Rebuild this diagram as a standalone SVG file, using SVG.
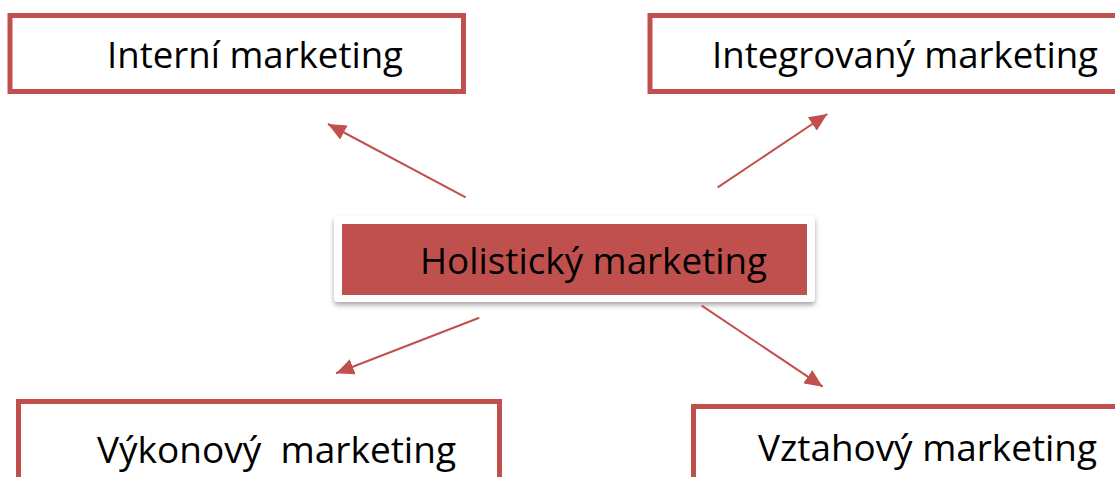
<svg xmlns="http://www.w3.org/2000/svg" width="1115" height="477" viewBox="0 0 1115 477">
  <style>
    .box { fill: #ffffff; stroke: #C0504D; stroke-width: 5; }
    .lbl { font-family: "Open Sans", "Noto Sans", "DejaVu Sans", sans-serif; font-size: 36px; fill: #000000; white-space: pre; }
    .conn { stroke: #C0504D; stroke-width: 2; fill: none; marker-end: url(#arr); }
  </style>
  <defs>
    <marker id="arr" markerUnits="userSpaceOnUse" markerWidth="20" markerHeight="16" refX="18" refY="8" orient="auto">
      <path d="M0,0 L18,8 L0,16 Z" fill="#C0504D"/>
    </marker>
    <filter id="sh" x="-5%" y="-20%" width="110%" height="150%">
      <feDropShadow dx="0" dy="3" stdDeviation="2.5" flood-color="#000" flood-opacity="0.35"/>
    </filter>
  </defs>
  <rect width="1115" height="477" fill="#ffffff"/>

  <g id="node-interni">
    <rect class="box" x="10" y="15.5" width="453.5" height="76"/>
    <text class="lbl" x="107" y="68" textLength="296" lengthAdjust="spacingAndGlyphs">Interní marketing</text>
  </g>
  <g id="node-integrovany">
    <rect class="box" x="650" y="15.5" width="500" height="76"/>
    <text class="lbl" x="712" y="68" textLength="386" lengthAdjust="spacingAndGlyphs">Integrovaný marketing</text>
  </g>
  <g id="node-holisticky">
    <rect x="334" y="216" width="481" height="86" rx="4" fill="#ffffff" filter="url(#sh)"/>
    <rect x="342" y="224" width="465" height="71" fill="#C0504D"/>
    <text class="lbl" x="420" y="274" textLength="347" lengthAdjust="spacingAndGlyphs">Holistický marketing</text>
  </g>
  <g id="node-vykonovy">
    <rect class="box" x="18.5" y="401.5" width="481" height="100"/>
    <text class="lbl" x="97" y="463" textLength="359" lengthAdjust="spacingAndGlyphs">Výkonový  marketing</text>
  </g>
  <g id="node-vztahovy">
    <rect class="box" x="693.5" y="406.5" width="460" height="100"/>
    <text class="lbl" x="758" y="461" textLength="339" lengthAdjust="spacingAndGlyphs">Vztahový marketing</text>
  </g>

  <g id="connectors">
    <line class="conn" x1="465.7" y1="197.3" x2="328" y2="124"/>
    <line class="conn" x1="717.7" y1="187.3" x2="827.3" y2="114"/>
    <line class="conn" x1="479.3" y1="317.7" x2="336" y2="373.3"/>
    <line class="conn" x1="701.7" y1="305.7" x2="822.7" y2="386.7"/>
  </g>
</svg>
